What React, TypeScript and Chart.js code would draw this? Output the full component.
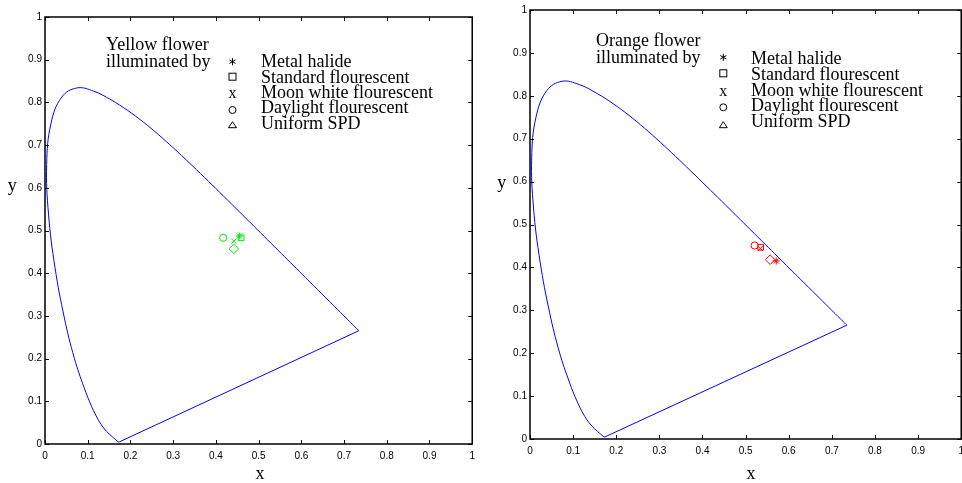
import React, { useEffect, useRef } from "react";
import { Chart, registerables } from "chart.js";

Chart.register(...registerables);

// CIE 1931 spectral locus (chromaticity x, y), 380 nm .. 700 nm
const locusX = [0.1741, 0.1733, 0.1714, 0.1689, 0.1644, 0.1566, 0.144, 0.1355, 0.1241, 0.1096, 0.0913, 0.0687, 0.0454, 0.0235, 0.0082, 0.0039, 0.0139, 0.0389, 0.0743, 0.1142, 0.1547, 0.1929, 0.2296, 0.2658, 0.3016, 0.3373, 0.3731, 0.4087, 0.4441, 0.4788, 0.5125, 0.5448, 0.5752, 0.6029, 0.627, 0.6658, 0.6915, 0.7079, 0.719, 0.726, 0.73, 0.7334, 0.7347];
const locusY = [0.005, 0.0048, 0.0051, 0.0069, 0.0109, 0.0177, 0.0297, 0.0399, 0.0578, 0.0868, 0.1327, 0.2007, 0.295, 0.4127, 0.5384, 0.6548, 0.7502, 0.812, 0.8338, 0.8262, 0.8059, 0.7816, 0.7543, 0.7243, 0.6923, 0.6589, 0.6245, 0.5896, 0.5547, 0.5202, 0.4866, 0.4544, 0.4242, 0.3965, 0.3725, 0.334, 0.3083, 0.292, 0.2809, 0.274, 0.27, 0.2666, 0.2653];
// purple line closing the locus (700 nm -> 380 nm)
const purpleX = [0.7347, 0.1741];
const purpleY = [0.2653, 0.005];

// Illuminants, in order: metal halide, standard, moon white, daylight, uniform SPD
const illuminants = ["Metal halide", "Standard flourescent", "Moon white flourescent", "Daylight flourescent", "Uniform SPD"];
const markerStyles = ["star", "rect", "crossRot", "circle", "rectRot"];
const yellowX = [0.455, 0.459, 0.442, 0.417, 0.442];
const yellowY = [0.487, 0.483, 0.475, 0.483, 0.457];
const orangeX = [0.571, 0.535, 0.534, 0.521, 0.557];
const orangeY = [0.415, 0.447, 0.444, 0.451, 0.418];

const tickValues = [0, 0.1, 0.2, 0.3, 0.4, 0.5, 0.6, 0.7, 0.8, 0.9, 1];
const tickLabels = ["0", "0.1", "0.2", "0.3", "0.4", "0.5", "0.6", "0.7", "0.8", "0.9", "1"];

const SERIF = "'Liberation Serif', 'Times New Roman', serif";
const SANS = "'Liberation Sans', Arial, sans-serif";

const framePlugin = {
  id: "frame",
  afterDatasetsDraw(chart: any, _args: any, o: any) {
    const { ctx, chartArea: a } = chart;
    const sx = chart.scales.x;
    const sy = chart.scales.y;
    ctx.save();
    ctx.strokeStyle = "#000";
    ctx.lineWidth = 1.5;
    ctx.strokeRect(a.left, a.top, a.right - a.left, a.bottom - a.top);
    ctx.lineWidth = 1;
    ctx.beginPath();
    for (const v of tickValues) {
      const px = Math.round(sx.getPixelForValue(v)) + 0.5;
      ctx.moveTo(px, a.bottom);
      ctx.lineTo(px, a.bottom - 4);
      ctx.moveTo(px, a.top);
      ctx.lineTo(px, a.top + 4);
      const py = Math.round(sy.getPixelForValue(v)) + 0.5;
      ctx.moveTo(a.left, py);
      ctx.lineTo(a.left + 4, py);
      ctx.moveTo(a.right, py);
      ctx.lineTo(a.right - 4, py);
    }
    ctx.stroke();

    ctx.fillStyle = "#000";
    ctx.font = `18px ${SERIF}`;
    ctx.textAlign = "left";
    ctx.textBaseline = "alphabetic";
    o.title.forEach((t: string, i: number) => ctx.fillText(t, o.titleX, o.titleY[i]));
    illuminants.forEach((t, i) => ctx.fillText(t, o.textX, o.textY[i]));

    // legend symbols
    const cx = o.symX;
    ctx.lineWidth = 1;
    // asterisk
    let cy = o.symY[0];
    ctx.beginPath();
    for (let k = 0; k < 3; k++) {
      const ang = Math.PI / 2 + (k * Math.PI) / 3;
      ctx.moveTo(cx - Math.cos(ang) * 3.5, cy - Math.sin(ang) * 3.5);
      ctx.lineTo(cx + Math.cos(ang) * 3.5, cy + Math.sin(ang) * 3.5);
    }
    ctx.stroke();
    // square
    cy = o.symY[1];
    ctx.strokeRect(cx - 3.5, cy - 3.5, 7, 7);
    // circle
    cy = o.symY[3];
    ctx.beginPath();
    ctx.arc(cx, cy, 3.5, 0, Math.PI * 2);
    ctx.stroke();
    // triangle
    cy = o.symY[4];
    ctx.beginPath();
    ctx.moveTo(cx - 4, cy + 2.7);
    ctx.lineTo(cx + 4, cy + 2.7);
    ctx.lineTo(cx, cy - 3.3);
    ctx.closePath();
    ctx.stroke();

    // axis labels
    ctx.textAlign = "center";
    ctx.fillText("x", o.xLabel[0], o.xLabel[1]);
    ctx.fillText("y", o.yLabel[0], o.yLabel[1]);
    // legend "x" symbol (smaller)
    ctx.font = `16px ${SERIF}`;
    ctx.fillText("x", cx, o.textY[2]);
    ctx.restore();
  },
};

type PanelProps = {
  left: number;
  width: number;
  padTop: number;
  yAxisW: number;
  xAxisH: number;
  color: string;
  xs: number[];
  ys: number[];
  frame: any;
};

function Panel(p: PanelProps) {
  const ref = useRef<HTMLCanvasElement | null>(null);
  useEffect(() => {
    if (!ref.current) return;
    const markers = illuminants.map((name, i) => ({
      label: name,
      data: [{ x: p.xs[i], y: p.ys[i] }],
      pointStyle: markerStyles[i],
      pointRadius: markerStyles[i] === "rectRot" ? 4.8 : markerStyles[i] === "rect" ? 4 : 3.6,
      pointBorderColor: p.color,
      pointBackgroundColor: "rgba(0,0,0,0)",
      pointBorderWidth: 1,
      showLine: false,
      order: 0,
    }));
    const axis = (isX: boolean) => ({
      type: "linear",
      min: 0,
      max: 1,
      position: isX ? "bottom" : "left",
      afterFit: (s: any) => {
        if (isX) s.height = p.xAxisH;
        else s.width = p.yAxisW;
      },
      afterBuildTicks: (s: any) => {
        s.ticks = tickValues.map((v) => ({ value: v }));
      },
      grid: { display: false, drawTicks: false },
      border: { display: false },
      ticks: {
        padding: isX ? 6 : 3,
        color: "#000",
        autoSkip: false,
        maxRotation: 0,
        font: { family: SANS, size: 10 },
        callback: (_v: any, i: number) => tickLabels[i],
      },
    });
    const chart = new Chart(ref.current, {
      type: "scatter",
      data: {
        datasets: [
          ...markers,
          {
            label: "Spectral locus",
            data: locusX.map((x, i) => ({ x, y: locusY[i] })),
            showLine: true,
            borderColor: "#0000ff",
            borderWidth: 1,
            pointRadius: 0,
            tension: 0.4,
            order: 10,
          },
          {
            label: "Purple line",
            data: purpleX.map((x, i) => ({ x, y: purpleY[i] })),
            showLine: true,
            borderColor: "#0000ff",
            borderWidth: 1,
            pointRadius: 0,
            tension: 0,
            order: 10,
          },
        ],
      } as any,
      options: {
        animation: false,
        responsive: false,
        devicePixelRatio: 1,
        layout: { autoPadding: false, padding: { top: p.padTop, right: 4, left: 0, bottom: 0 } },
        scales: { x: axis(true), y: axis(false) } as any,
        plugins: {
          legend: { display: false },
          tooltip: { enabled: false },
          frame: p.frame,
        } as any,
      },
      plugins: [framePlugin],
    });
    return () => chart.destroy();
  }, []);
  return (
    <canvas
      ref={ref}
      width={p.width}
      height={483}
      style={{ position: "absolute", left: p.left, top: 0, width: p.width, height: 483 }}
    />
  );
}

export default function App() {
  return (
    <div
      style={{
        position: "fixed",
        left: 0,
        top: 0,
        width: 962,
        height: 483,
        overflow: "hidden",
        background: "#fff",
      }}
    >
      <Panel
        left={0}
        width={481}
        padTop={17}
        yAxisW={45}
        xAxisH={39}
        color="#00ee00"
        xs={yellowX}
        ys={yellowY}
        frame={{
          title: ["Yellow flower", "illuminated by"],
          titleX: 106,
          titleY: [50, 66.5],
          symX: 232.5,
          symY: [61.7, 76.7, 94, 110, 125],
          textX: 261,
          textY: [67.3, 83.3, 98.3, 113.3, 129],
          xLabel: [260, 479],
          yLabel: [12.3, 191],
        }}
      />
      <Panel
        left={485}
        width={485}
        padTop={10}
        yAxisW={45}
        xAxisH={44}
        color="#ff0000"
        xs={orangeX}
        ys={orangeY}
        frame={{
          title: ["Orange flower", "illuminated by"],
          titleX: 111,
          titleY: [45.7, 63.3],
          symX: 238.3,
          symY: [57.3, 73.3, 90, 107.3, 125],
          textX: 266,
          textY: [64.3, 80, 95.7, 111, 126.7],
          xLabel: [266, 479],
          yLabel: [16.7, 188],
        }}
      />
    </div>
  );
}
